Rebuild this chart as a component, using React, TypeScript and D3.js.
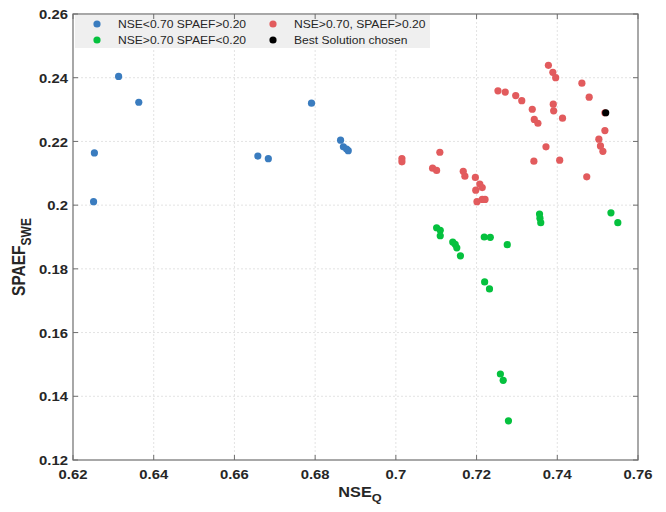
import React from "react";
import * as d3 from "d3";

const blueX = [0.6253, 0.6251, 0.6313, 0.6363, 0.6658, 0.6684, 0.6791, 0.6863, 0.6870, 0.6878, 0.6882];
const blueY = [0.2164, 0.2011, 0.2404, 0.2323, 0.2154, 0.2146, 0.2320, 0.2204, 0.2183, 0.2176, 0.2171];

const redX = [0.7378, 0.7389, 0.7396, 0.7461, 0.7479, 0.7253, 0.7271, 0.7297, 0.7312, 0.7338, 0.7390, 0.7391, 0.7413, 0.7343, 0.7352, 0.7518, 0.7503, 0.7507, 0.7513, 0.7372, 0.7342, 0.7406, 0.7473, 0.7015, 0.7015, 0.7109, 0.7091, 0.7101, 0.7167, 0.7171, 0.7197, 0.7208, 0.7214, 0.7198, 0.7201, 0.7214, 0.7221, 0.7518];
const redY = [0.2439, 0.2417, 0.2400, 0.2383, 0.2339, 0.2359, 0.2355, 0.2344, 0.2328, 0.2301, 0.2317, 0.2296, 0.2273, 0.2269, 0.2257, 0.2234, 0.2207, 0.2186, 0.2169, 0.2183, 0.2138, 0.2141, 0.2089, 0.2146, 0.2136, 0.2166, 0.2116, 0.2109, 0.2106, 0.2091, 0.2087, 0.2066, 0.2055, 0.2047, 0.2011, 0.2018, 0.2018, 0.2290];

const greenX = [0.7356, 0.7357, 0.7359, 0.7533, 0.7550, 0.7101, 0.7110, 0.7110, 0.7141, 0.7147, 0.7151, 0.7160, 0.7219, 0.7234, 0.7276, 0.7220, 0.7232, 0.7259, 0.7266, 0.7279];
const greenY = [0.1972, 0.1959, 0.1945, 0.1976, 0.1945, 0.1929, 0.1921, 0.1904, 0.1884, 0.1877, 0.1866, 0.1841, 0.1900, 0.1899, 0.1876, 0.1759, 0.1737, 0.1470, 0.1450, 0.1323];

const bestX = [0.7520];
const bestY = [0.2290];

const xTicks = [0.62, 0.64, 0.66, 0.68, 0.7, 0.72, 0.74, 0.76];
const yTicks = [0.12, 0.14, 0.16, 0.18, 0.2, 0.22, 0.24, 0.26];
const xTickLabels = ["0.62", "0.64", "0.66", "0.68", "0.7", "0.72", "0.74", "0.76"];
const yTickLabels = ["0.12", "0.14", "0.16", "0.18", "0.2", "0.22", "0.24", "0.26"];

const legendLabels = [
  "NSE<0.70 SPAEF>0.20",
  "NSE>0.70, SPAEF>0.20",
  "NSE>0.70 SPAEF<0.20",
  "Best Solution chosen",
];

const BLUE = "#3a7cbf";
const RED = "#e25b5d";
const GREEN = "#05c13e";
const BLACK = "#000000";

export default function App() {
  const W = 666, H = 512;
  const left = 73, right = 638, top = 14, bottom = 460;
  const x = d3.scaleLinear().domain([0.62, 0.76]).range([left, right]);
  const y = d3.scaleLinear().domain([0.12, 0.26]).range([bottom, top]);
  const font = "'Liberation Sans', Arial, sans-serif";
  const r = 3.6;
  const SX = 1.16;

  const series = [
    { xs: blueX, ys: blueY, c: BLUE },
    { xs: redX, ys: redY, c: RED },
    { xs: greenX, ys: greenY, c: GREEN },
    { xs: bestX, ys: bestY, c: BLACK },
  ];

  const legendItems = [
    { c: BLUE, label: legendLabels[0], lx: 97, ly: 24 },
    { c: RED, label: legendLabels[1], lx: 273, ly: 24 },
    { c: GREEN, label: legendLabels[2], lx: 97, ly: 40 },
    { c: BLACK, label: legendLabels[3], lx: 273, ly: 40 },
  ];

  const axisColor = "#6e6e6e";
  const tickLen = 5;

  return (
    <svg width={W} height={H} style={{ position: "absolute", left: 0, top: 0, background: "#fff" }}>
      <rect x={0} y={0} width={W} height={H} fill="#fff" />
      {/* grid */}
      {xTicks.slice(1, -1).map((t) => (
        <line key={"gx" + t} x1={x(t)} x2={x(t)} y1={top} y2={bottom} stroke="#e3e3e3" strokeDasharray="2,2" strokeWidth={1} />
      ))}
      {yTicks.slice(1, -1).map((t) => (
        <line key={"gy" + t} x1={left} x2={right} y1={y(t)} y2={y(t)} stroke="#e3e3e3" strokeDasharray="2,2" strokeWidth={1} />
      ))}
      {/* legend */}
      <rect x={75} y={15} width={355} height={33} fill="#efefef" />
      {legendItems.map((it) => (
        <g key={it.label}>
          <circle cx={it.lx} cy={it.ly} r={r} fill={it.c} />
          <text transform={`translate(${it.lx + 21},${it.ly}) scale(1.1,1)`} dominantBaseline="central" fontFamily={font} fontSize={11} fill="#262626">
            {it.label}
          </text>
        </g>
      ))}
      {/* points */}
      {series.map((s, si) => (
        <g key={"s" + si}>
          {s.xs.map((xv, i) => (
            <circle key={i} cx={x(xv)} cy={y(s.ys[i])} r={r} fill={s.c} />
          ))}
        </g>
      ))}
      {/* frame */}
      <rect x={left} y={top} width={right - left} height={bottom - top} fill="none" stroke={axisColor} strokeWidth={1.2} />
      {/* ticks */}
      {xTicks.map((t) => (
        <g key={"tx" + t}>
          <line x1={x(t)} x2={x(t)} y1={bottom} y2={bottom - tickLen} stroke={axisColor} />
          <line x1={x(t)} x2={x(t)} y1={top} y2={top + tickLen} stroke={axisColor} />
        </g>
      ))}
      {yTicks.map((t) => (
        <g key={"ty" + t}>
          <line x1={left} x2={left + tickLen} y1={y(t)} y2={y(t)} stroke={axisColor} />
          <line x1={right} x2={right - tickLen} y1={y(t)} y2={y(t)} stroke={axisColor} />
        </g>
      ))}
      {/* tick labels */}
      {xTicks.map((t, i) => (
        <text key={"lx" + t} transform={`translate(${x(t)},474) scale(${SX},1)`} textAnchor="middle" dominantBaseline="central" fontFamily={font} fontWeight="bold" fontSize={12.8} fill="#262626">
          {xTickLabels[i]}
        </text>
      ))}
      {yTicks.map((t, i) => (
        <text key={"ly" + t} transform={`translate(68,${y(t) + 0.5}) scale(${SX},1)`} textAnchor="end" dominantBaseline="central" fontFamily={font} fontWeight="bold" fontSize={12.8} fill="#262626">
          {yTickLabels[i]}
        </text>
      ))}
      {/* axis titles */}
      <text transform={`translate(360,497) scale(${SX},1)`} textAnchor="middle" fontFamily={font} fontWeight="bold" fontSize={14} fill="#262626">
        NSE<tspan fontSize={11} dy={5}>Q</tspan>
      </text>
      <text transform={`translate(25,257) scale(${SX},1) rotate(-90)`} textAnchor="middle" fontFamily={font} fontWeight="bold" fontSize={15.5} fill="#262626">
        SPAEF<tspan fontSize={12} dy={5}>SWE</tspan>
      </text>
    </svg>
  );
}
